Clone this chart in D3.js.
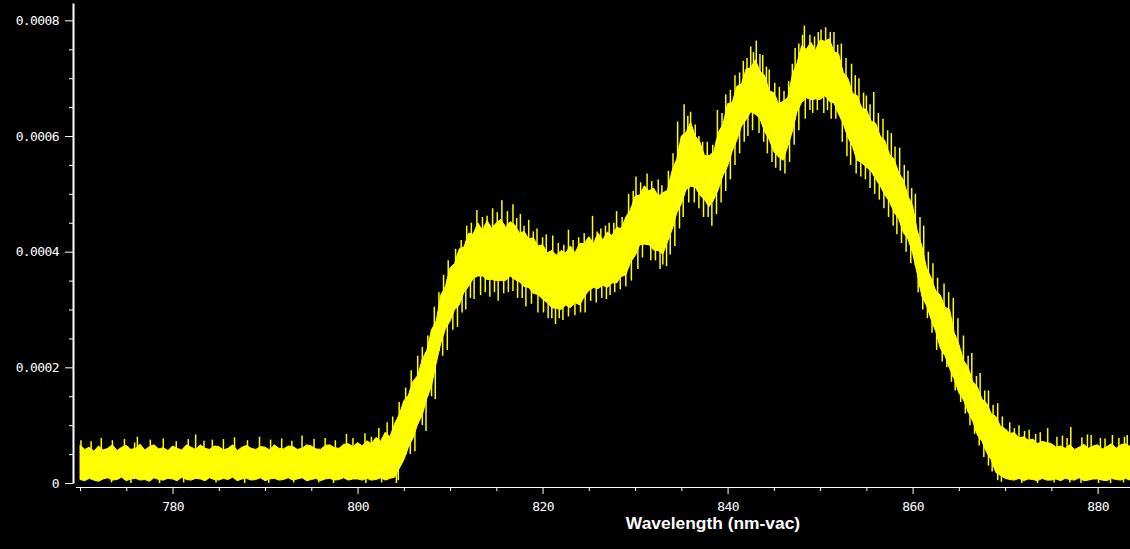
<!DOCTYPE html>
<html>
<head>
<meta charset="utf-8">
<script src="https://cdn.jsdelivr.net/npm/d3@7"></script>
<style>
  body { margin: 0; background: #000; }
  svg { display: block; }
</style>
</head>
<body>
<script>
// spectrum sampled every 0.5 nm, 770 .. 883.5 nm
// band edges read off the plot, in units of 1e-4
const wl = d3.range(770, 883.51, 0.5);

const hi = [
  .66,.58, .62,.55, .64,.57, .6,.66, .56,.62, .65,.58, .6,.67, .57,.63, .66,.59, .61,.56,
  .64,.6, .57,.66, .62,.58, .66,.6, .58,.64, .63,.57, .6,.66, .56,.62, .65,.6, .58,.63,
  .62,.57, .66,.6, .59,.64, .63,.58, .6,.66, .64,.59, .58,.65, .66,.61, .6,.67, .68,.63,
  .7,.64, .73,.68, .79,.72, .88,.8, 1.02,1.18, 1.42,1.52, 1.76,1.86, 2.14,2.3, 2.65,2.8, 3.25,3.4,
  3.72,3.8, 4.05,4.08, 4.32,4.3, 4.5,4.36, 4.54,4.4, 4.5,4.56, 4.42,4.52, 4.46,4.32, 4.35,4.22, 4.24,4.1,
  4.12,3.98, 4.02,3.94, 4.02,3.98, 4.1,3.98, 4.14,4.14, 4.26,4.14, 4.32,4.2, 4.34,4.28, 4.42,4.4, 4.6,4.72,
  4.96,4.98, 5.14,5.05, 5.1,4.96, 5.02,5.06, 5.4,5.6, 6.0,6.06, 6.24,6.0, 5.9,5.66, 5.66,5.72, 6.06,6.2,
  6.56,6.58, 6.86,6.9, 7.16,7.18, 7.32,7.12, 7.05,6.78, 6.75,6.56, 6.6,6.66, 7.06,7.26, 7.56,7.5, 7.62,7.48,
  7.66,7.64, 7.68,7.46, 7.42,7.1, 7.0,6.74, 6.7,6.48, 6.46,6.26, 6.22,6.0, 5.92,5.68, 5.6,5.36, 5.24,4.96,
  4.8,4.36, 4.1,3.72, 3.55,3.32, 3.25,3.04, 3.0,2.6, 2.4,2.12, 2.0,1.75, 1.66,1.45, 1.38,1.2, 1.15,.98,
  .94,.86, .87,.78, .8,.74, .76,.68, .72,.7, .68,.62, .64,.6, .66,.58, .62,.67, .6,.64,
  .66,.59, .63,.68, .6,.66, .68,.63
];

const lo = [
  .06,.04, .08,.05, .03,.07, .09,.05, .06,.1, .04,.07, .08,.05, .06,.03, .09,.06, .05,.08,
  .07,.04, .1,.06, .05,.08, .07,.04, .09,.06, .05,.08, .06,.1, .04,.07, .08,.05, .06,.09,
  .04,.07, .08,.05, .06,.09, .05,.07, .09,.04, .06,.08, .04,.07, .08,.05, .06,.09, .05,.07,
  .07,.05, .08,.05, .06,.09, .05,.08, .1,.25, .4,.62, .78,1.02, 1.18,1.47, 1.68,2.07, 2.42,2.67,
  2.8,3.0, 3.08,3.3, 3.4,3.54, 3.58,3.58, 3.52,3.52, 3.5,3.5, 3.5,3.58, 3.52,3.48, 3.4,3.38, 3.28,3.26,
  3.18,3.12, 3.03,3.02, 3.0,3.08, 3.03,3.12, 3.08,3.22, 3.33,3.38, 3.36,3.42, 3.38,3.46, 3.46,3.57, 3.6,3.82,
  3.93,4.12, 4.13,4.12, 4.03,4.02, 3.96,4.17, 4.38,4.67, 4.83,5.07, 5.13,5.12, 4.98,4.9, 4.78,4.9, 5.08,5.32,
  5.48,5.74, 5.93,6.17, 6.28,6.42, 6.38,6.3, 6.08,5.94, 5.73,5.64, 5.58,5.82, 6.08,6.42, 6.58,6.66, 6.63,6.64,
  6.63,6.7, 6.6,6.57, 6.38,6.22, 5.98,5.82, 5.58,5.54, 5.46,5.4, 5.26,5.14, 4.98,4.87, 4.68,4.57, 4.33,4.22,
  3.98,3.62, 3.23,3.07, 2.83,2.62, 2.33,2.2, 1.98,1.8, 1.56,1.44, 1.23,1.07, .83,.72, .53,.4, .18,.13,
  .08,.06, .05,.08, .04,.07, .06,.04, .08,.05, .05,.07, .04,.08, .06,.05, .09,.04, .05,.07,
  .07,.05, .04,.08, .06,.05, .08,.05
];

// single-sample spikes above the band [nm, 1e-4]
const spikes = [
  [770.1,.74],[772.3,.78],[774.8,.76],[776.2,.8],[779.0,.77],[782.5,.84],[784.3,.75],[786.7,.79],
  [789.4,.8],[791.8,.77],[794.0,.82],[796.5,.78],[798.8,.85],[800.8,.86],[802.3,.95],[803.2,1.05],
  [803.8,1.15],[804.5,1.4],[805.2,1.65],[806.5,2.2],[807.6,2.55],[808.3,3.05],[809.3,3.6],[810.6,4.05],
  [811.8,4.45],[812.9,4.72],[813.5,4.6],[814.6,4.75],[815.6,4.89],[816.8,4.82],[817.6,4.65],[818.5,4.55],
  [819.4,4.4],[820.4,4.3],[821.1,4.28],[822.8,4.38],[823.9,4.25],[825.4,4.62],[826.3,4.4],[827.2,4.5],
  [828.0,4.7],[829.3,5.0],[830.1,5.3],[831.3,5.35],[832.5,5.25],[833.6,5.4],[834.6,6.25],[835.3,6.55],
  [836.0,6.42],[836.9,6.0],[837.8,5.9],[838.9,6.45],[839.8,6.72],[840.8,7.05],[841.7,7.3],[842.5,7.55],
  [843.1,7.65],[843.8,7.4],[844.5,7.15],[845.6,6.85],[846.6,6.95],[847.3,7.52],[848.1,7.75],[848.3,7.91],
  [849.4,7.72],[850.1,7.84],[850.6,7.88],[851.5,7.8],[852.3,7.6],[853.4,7.25],[854.2,7.0],[855.0,6.7],
  [855.8,6.76],[856.8,6.3],[857.7,6.05],[858.6,5.8],[859.5,5.4],[860.3,5.0],[861.2,4.45],[862.2,3.8],
  [863.4,3.45],[864.4,3.2],[865.5,2.55],[866.4,2.25],[867.3,1.9],[868.2,1.6],[869.2,1.38],[870.5,1.05],
  [871.5,1.0],[872.6,.92],[873.8,.88],[874.6,.95],[876.2,.82],[877.1,.97],[878.9,.84],[879.3,.83],
  [880.3,.78],[881.6,.83],[882.9,.8],[883.2,.83],
  [771.2,.72],[773.5,.74],[775.9,.7],[777.6,.75],[780.4,.72],[781.7,.76],[783.4,.73],[785.5,.76],
  [788.1,.74],[790.6,.75],[792.9,.73],[795.3,.76],[797.6,.74],[799.5,.78],[801.5,.8],
  [805.8,1.95],[807.0,2.35],[808.8,3.3],[809.8,3.85],[811.2,4.2],[812.3,4.5],[814.0,4.62],[815.1,4.68],
  [816.2,4.7],[817.2,4.58],[818.0,4.45],[819.0,4.35],[820.0,4.25],[821.7,4.15],[822.3,4.12],[823.3,4.2],
  [824.5,4.32],[825.9,4.35],[826.8,4.45],[827.7,4.5],[828.6,4.6],[829.8,5.05],[830.6,5.2],[831.8,5.22],
  [832.9,5.15],[834.1,5.7],[835.7,6.35],[836.5,6.2],[837.3,5.9],[838.4,5.85],[839.4,6.4],[840.3,6.8],
  [841.3,7.1],[842.1,7.35],[842.8,7.45],[843.5,7.42],[844.2,7.2],[845.1,6.92],[846.1,6.78],[847.0,7.25],
  [847.7,7.6],[848.9,7.75],[849.8,7.8],[851.1,7.8],[851.9,7.58],[852.8,7.35],[853.8,7.05],[854.7,6.75],
  [855.4,6.55],[856.3,6.4],[857.3,6.1],[858.1,5.82],[859.1,5.5],[859.9,5.1],[860.8,4.6],[861.7,4.0],
  [862.7,3.55],[863.9,3.3],[864.9,2.85],[866.0,2.2],[866.9,1.85],[867.8,1.6],[868.7,1.35],[869.7,1.15],
  [871.0,.95],[872.1,.9],[873.3,.85],[875.6,.8],[876.7,.78],[878.3,.79],[880.8,.77],[882.3,.78]
];

// single-sample dips below the band [nm, 1e-4]
const dips = [
  [775.5,0],[781.2,.01],[787.8,0],[793.1,.01],[797.4,0],[804.2,0],[804.4,.05],[806.2,.55],
  [807.4,.9],[808.4,1.45],[809.7,2.3],[810.8,2.7],[811.7,3.0],[812.6,3.18],[813.3,3.25],[814.3,3.22],
  [815.2,3.15],[816.3,3.3],[817.3,3.2],[818.2,3.05],[819.5,2.95],[820.6,2.85],[821.4,2.75],[822.2,2.82],
  [823.5,2.9],[824.6,2.95],[825.8,3.12],[826.9,3.18],[827.8,3.3],[829.0,3.4],[830.3,3.7],[831.7,3.85],
  [832.7,3.7],[833.4,3.75],[834.3,4.1],[835.2,4.6],[836.4,4.85],[837.4,4.6],[838.3,4.45],[839.3,4.85],
  [840.3,5.25],[841.3,5.7],[842.2,6.0],[843.4,6.05],[844.3,5.7],[845.2,5.45],[846.2,5.35],[847.2,5.85],
  [848.4,6.3],[849.2,6.4],[850.4,6.4],[851.2,6.3],[852.4,5.9],[853.3,5.5],[854.4,5.3],[855.4,5.1],
  [856.4,4.9],[857.4,4.6],[858.3,4.3],[859.3,4.0],[860.6,3.3],[861.6,2.85],[862.6,2.3],[863.7,2.0],
  [864.6,1.6],[865.7,1.2],[866.7,.85],[867.7,.45],[868.6,.2],[869.6,.02],[871.8,0],[875.3,.01],
  [878.2,0],[881.4,0],
  [773.4,.01],[778.6,0],[784.7,.01],[790.4,0],[795.8,.01],[800.9,0],[802.6,.01],
  [805.7,.5],[807.0,1.0],[808.0,1.5],[809.2,2.2],[810.3,2.65],[811.3,2.95],[812.2,3.2],[813.8,3.3],
  [814.8,3.3],[815.8,3.28],[816.8,3.32],[817.8,3.2],[818.8,3.1],[820.1,2.95],[821.0,2.85],[821.8,2.85],
  [822.8,2.88],[824.1,2.95],[825.2,3.15],[826.4,3.2],[827.3,3.25],[828.4,3.35],[829.6,3.5],[830.8,3.9],
  [832.2,3.85],[833.0,3.78],[833.8,3.95],[834.8,4.4],[835.8,4.85],[836.9,4.75],[837.9,4.6],[838.8,4.65],
  [839.8,5.05],[840.8,5.5],[841.8,5.9],[842.7,6.1],[843.9,5.9],[844.8,5.55],[845.7,5.4],[846.7,5.55],
  [847.7,6.1],[848.9,6.45],[849.7,6.45],[850.8,6.45],[851.7,6.3],[852.9,5.65],[853.9,5.35],[854.9,5.25],
  [855.9,5.0],[856.9,4.75],[857.9,4.45],[858.8,4.15],[859.8,3.8],[861.1,3.0],[862.1,2.6],[863.2,2.1],
  [864.2,1.75],[865.2,1.4],[866.2,1.0],[867.2,.65],[868.2,.3],[869.2,.05],
  [873.5,0],[877.0,.01],[880.1,0],[882.8,.01]
];

const majorX = [780, 800, 820, 840, 860, 880];
const minorX = [770, 775, 785, 790, 795, 805, 810, 815, 825, 830, 835, 845, 850, 855, 865, 870, 875];
const majorY = [0, 2e-4, 4e-4, 6e-4, 8e-4];
const minorY = [0.5e-4, 1e-4, 1.5e-4, 2.5e-4, 3e-4, 3.5e-4, 4.5e-4, 5e-4, 5.5e-4, 6.5e-4, 7e-4, 7.5e-4];

const W = 1130, H = 549;
const yellow = "#ffff00";

const svg = d3.select("body").append("svg")
    .attr("width", W)
    .attr("height", H);

svg.append("rect").attr("width", W).attr("height", H).attr("fill", "#000");

const x = d3.scaleLinear().domain([769.5, 883.5]).range([75.4, 1130]);
const y = d3.scaleLinear().domain([0, 8.3e-4]).range([483, 3]);

const pts = wl.map((w, i) => ({w: w, hi: hi[i] * 1e-4, lo: lo[i] * 1e-4}));
// edge lookups so spikes start inside the band
const loAt = d3.scaleLinear().domain(wl).range(lo);
const hiAt = d3.scaleLinear().domain(wl).range(hi);

const plot = svg.append("g");

plot.append("path")
    .datum(pts)
    .attr("fill", yellow)
    .attr("stroke", yellow)
    .attr("stroke-width", 1)
    .attr("d", d3.area()
        .x(d => x(d.w))
        .y0(d => y(d.lo))
        .y1(d => y(d.hi)));

plot.selectAll(".spike")
    .data(spikes).enter()
    .append("line")
    .attr("class", "spike")
    .attr("x1", d => x(d[0])).attr("x2", d => x(d[0]))
    .attr("y1", d => y(d[1] * 1e-4))
    .attr("y2", d => y(loAt(d[0]) * 1e-4))
    .attr("stroke", yellow)
    .attr("stroke-width", 1.5);

plot.selectAll(".dip")
    .data(dips).enter()
    .append("line")
    .attr("class", "dip")
    .attr("x1", d => x(d[0])).attr("x2", d => x(d[0]))
    .attr("y1", d => y(d[1] * 1e-4))
    .attr("y2", d => y(hiAt(d[0]) * 1e-4))
    .attr("stroke", yellow)
    .attr("stroke-width", 1.5);

// axes
const monoFont = "'DejaVu Sans Mono', 'Liberation Mono', monospace";

const gy = svg.append("g").attr("transform", "translate(73,0)");
gy.call(d3.axisLeft(y)
    .tickValues(majorY)
    .tickSize(8)
    .tickSizeOuter(0)
    .tickPadding(6)
    .tickFormat(d => d === 0 ? "0" : d3.format(".4f")(d)));
gy.append("g").call(d3.axisLeft(y).tickValues(minorY).tickSize(4).tickFormat(""))
  .select(".domain").remove();
gy.selectAll("path, line").attr("stroke", "#fff");
gy.select(".domain").attr("stroke-width", 2);
gy.selectAll("text")
    .attr("fill", "#fff")
    .style("font-family", monoFont)
    .style("font-size", "13px")
    .style("letter-spacing", "-0.6px");

const gx = svg.append("g").attr("transform", "translate(0,487)");
gx.call(d3.axisBottom(x)
    .tickValues(majorX)
    .tickSize(7)
    .tickSizeOuter(0)
    .tickPadding(8)
    .tickFormat(d3.format("d")));
gx.append("g").call(d3.axisBottom(x).tickValues(minorX).tickSize(4).tickFormat(""))
  .select(".domain").remove();
gx.selectAll("path, line").attr("stroke", "#fff");
gx.selectAll("text")
    .attr("fill", "#fff")
    .style("font-family", monoFont)
    .style("font-size", "13px")
    .style("letter-spacing", "-0.6px");

svg.append("text")
    .attr("x", 713)
    .attr("y", 529)
    .attr("text-anchor", "middle")
    .attr("fill", "#fff")
    .style("font-family", "'Liberation Sans', Arial, sans-serif")
    .style("font-weight", "bold")
    .style("font-size", "17.4px")
    .text("Wavelength (nm-vac)");
</script>
</body>
</html>
